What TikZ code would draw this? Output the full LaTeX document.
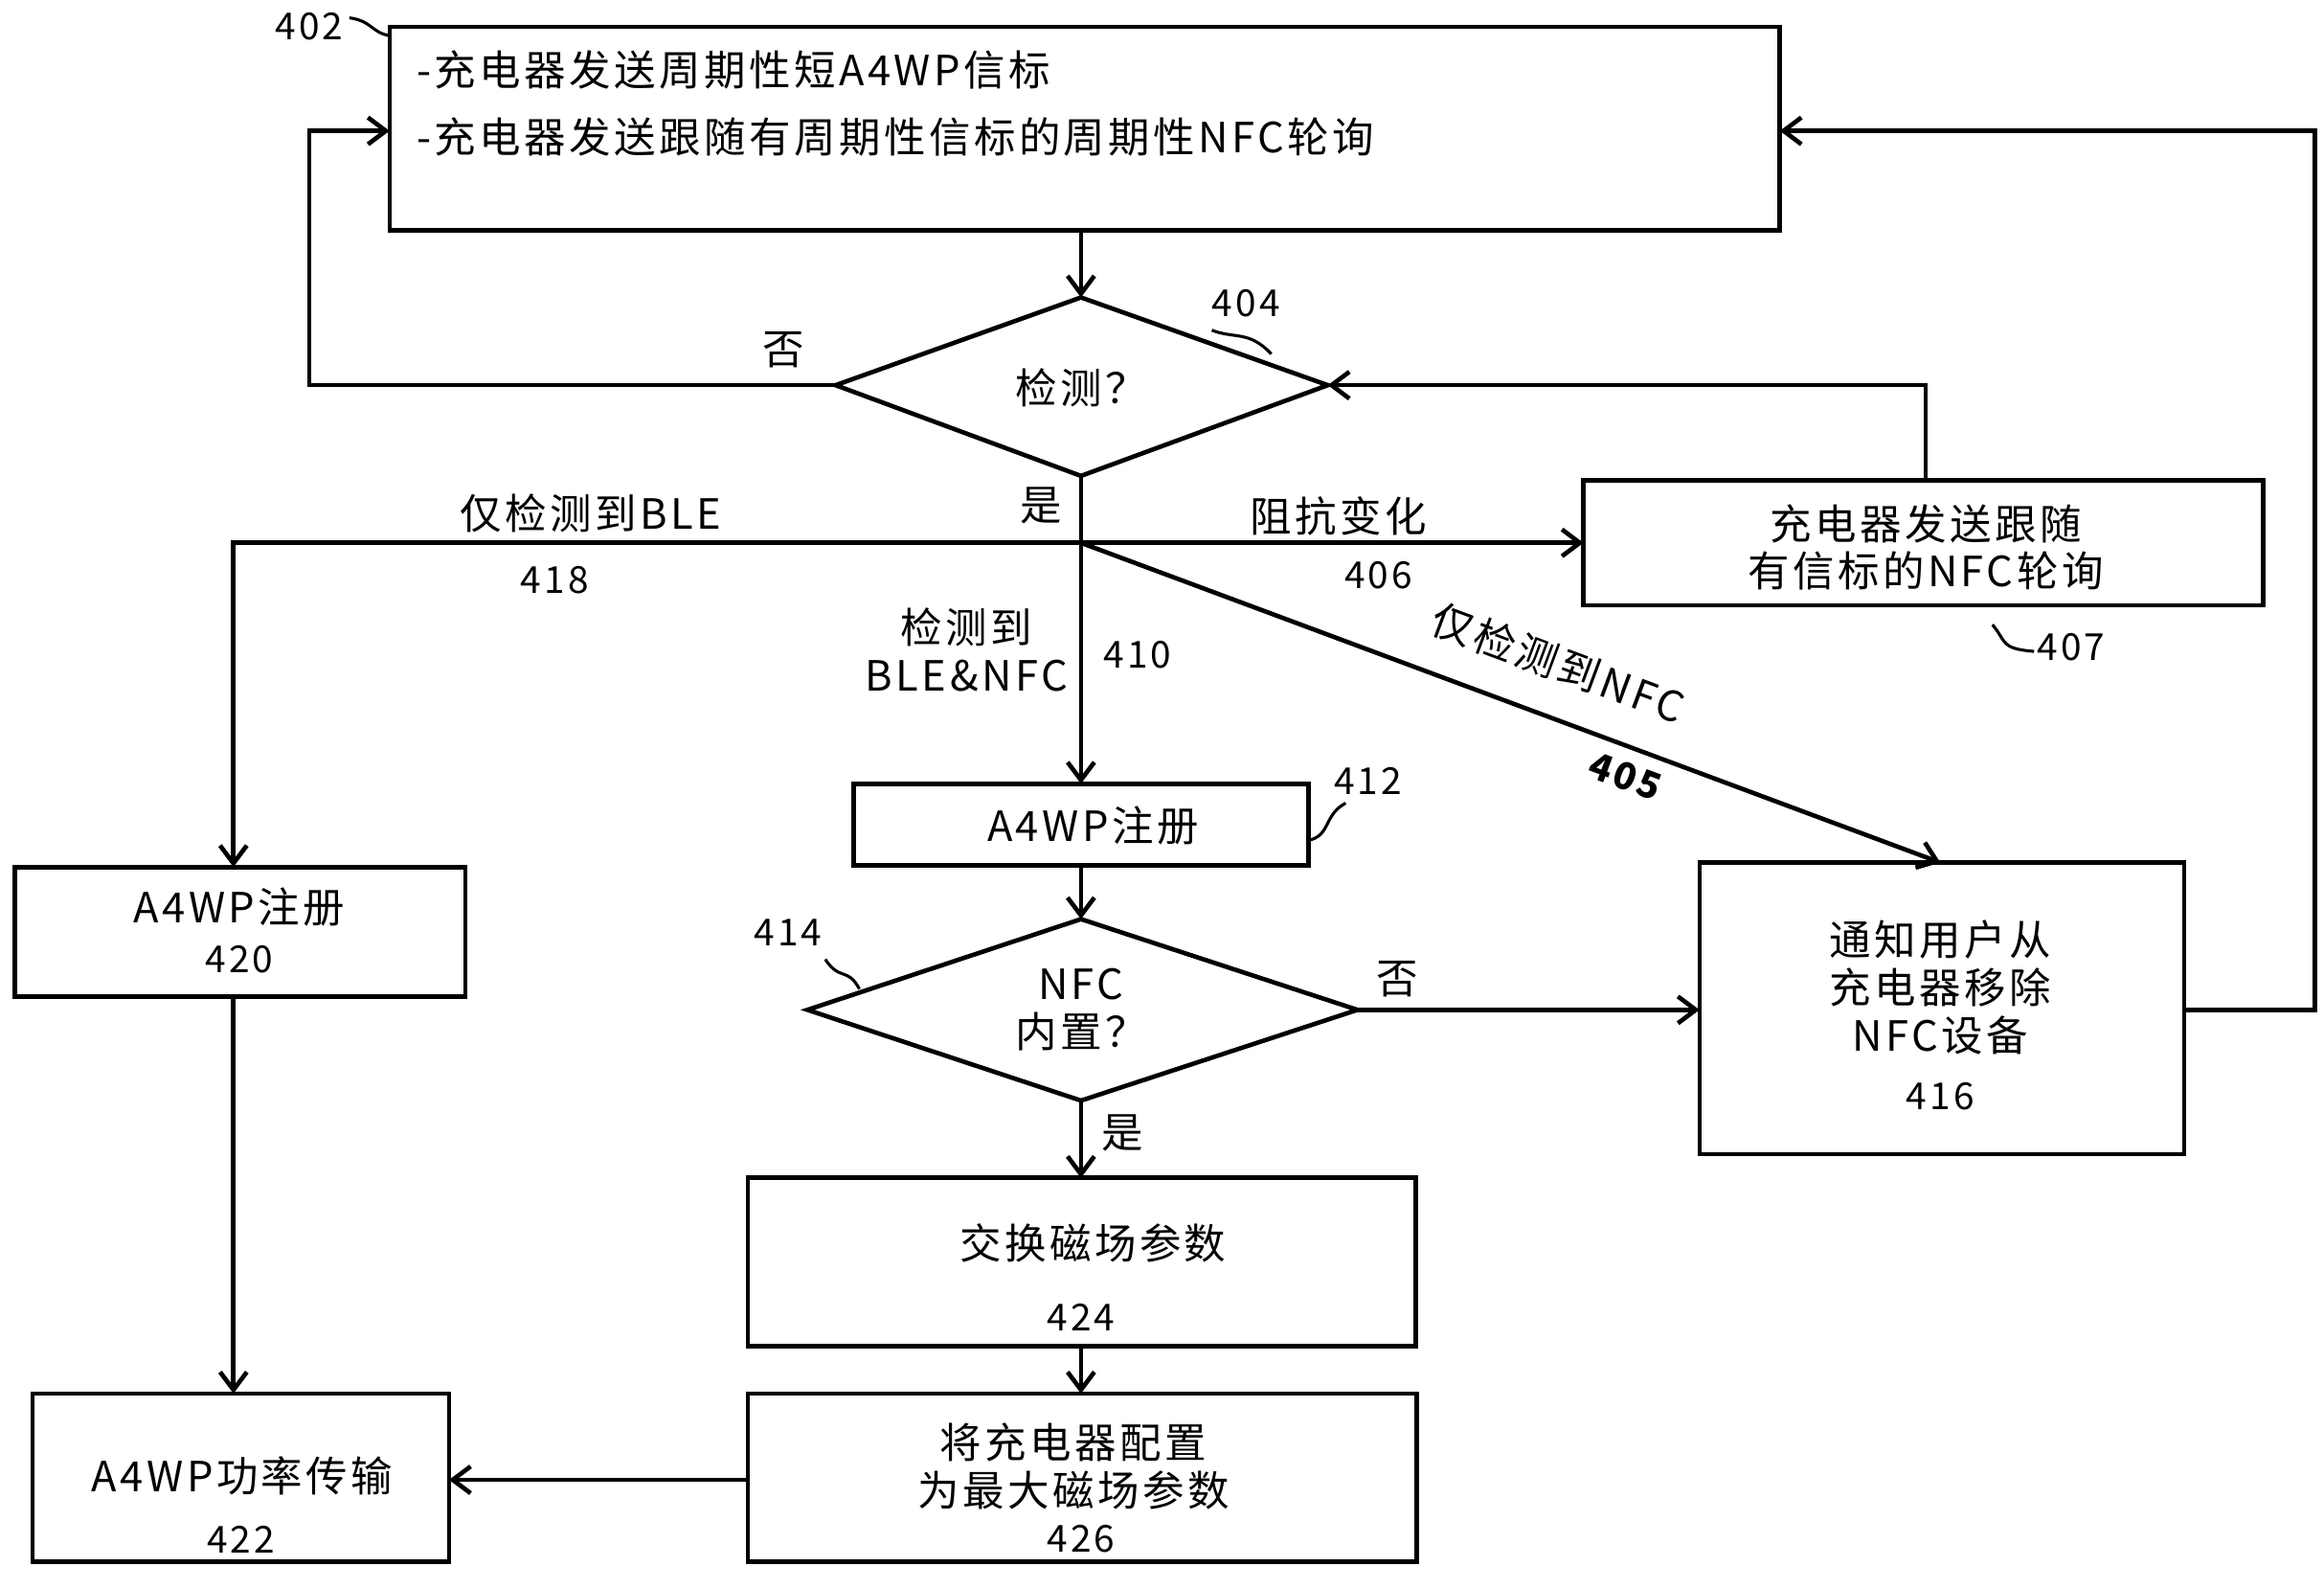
\documentclass[tikz,border=0pt]{standalone}
\usepackage{fontspec}
\setmainfont[LetterSpace=8]{Noto Sans CJK SC}
\usetikzlibrary{arrows.meta}
\begin{document}
\begin{tikzpicture}[x=0.5pt,y=-0.5pt,line width=1.5pt,
  lbl/.style={font=\fontsize{14}{16}\selectfont,align=center},
  num/.style={font=\fontsize{12.5}{14}\selectfont},
  arr/.style={-{Straight Barb[length=6pt,width=9pt]}},
  sq/.style={line width=1pt}]
\useasboundingbox (0,0) rectangle (1563,1068);
% boxes
\draw (262,18) rectangle (1197,155); \coordinate (b402l) at (262,88); \coordinate (b402r) at (1197,88); \coordinate (b402b) at (727,155);
\node[lbl,anchor=west] at (272,47) {-充电器发送周期性短A4WP信标};
\node[lbl,anchor=west] at (272,92) {-充电器发送跟随有周期性信标的周期性NFC轮询};
\node[num] (n402) at (208,18) {402};
\draw[sq] (235,12) .. controls (250,14) and (250,22) .. (262,24);
% diamond 404
\draw (562,259) -- (727,200) -- (893,259) -- (727,320) -- cycle;
\coordinate (d404t) at (727,200); \coordinate (d404l) at (562,259); \coordinate (d404r) at (893,259); \coordinate (d404b) at (727,320);
\node[lbl] (t404) at (727,261) {检测？};
\node[num] (n404) at (838,204) {404};
\draw[sq] (815,222) .. controls (830,228) and (840,222) .. (855,238);
\draw[arr] (b402b) -- (d404t);
\draw[arr] (d404l) -- (208,259) -- (208,88) -- (b402l);
\node[lbl] (no1) at (527,235) {否};
\draw (d404b) -- (727,365) coordinate (j);
\node[lbl] (yes1) at (700,340) {是};
% left branch
\draw (10,583) rectangle (313,670);
\node[lbl] (t420) at (161,610) {A4WP注册};
\node[num] (n420) at (161,645) {420};
\draw[arr] (j) -- (157,365) -- (157,583);
\node[lbl] (l418) at (397,345) {仅检测到BLE};
\node[num] (n418) at (373,390) {418};
% right box 407
\draw (1065,323) rectangle (1522,407);
\node[lbl] (t407) at (1295,368) {充电器发送跟随\\有信标的NFC轮询};
\draw[arr] (j) -- (1065,365);
\node[lbl] (l406) at (900,347) {阻抗变化};
\node[num] (n406) at (927,387) {406};
\node[num] (n407) at (1393,435) {407};
\draw[sq] (1340,420) .. controls (1350,432) and (1345,436) .. (1368,438);
\draw[arr] (1295,323) -- (1295,259) -- (d404r);
% diagonal
\draw[arr] (j) -- (1305,580);
\node[lbl,rotate=-20.4] (l405) at (1048,446) {仅检测到NFC};
\node[num,rotate=-20.4] (n405) at (1093,522) {\bfseries\itshape 405};
% down
\draw (574,527) rectangle (880,582);
\node[lbl] (t412) at (735,555) {A4WP注册};
\draw[arr] (j) -- (727,527);
\node[lbl] (l410) at (650,437) {检测到\\BLE\&NFC};
\node[num] (n410) at (765,440) {410};
\node[num] (n412) at (920,525) {412};
\draw[sq] (880,565) .. controls (895,562) and (890,548) .. (905,540);
% diamond 414
\draw (543,679) -- (727,618) -- (913,679) -- (727,740) -- cycle;
\node[lbl] (t414) at (727,679) {NFC\\内置？};
\node[num] (n414) at (530,627) {414};
\draw[sq] (555,645) .. controls (565,660) and (570,650) .. (578,665);
\draw[arr] (727,582) -- (727,618);
% box 416
\draw (1143,580) rectangle (1469,776);
\node[lbl] (t416) at (1305,664) {通知用户从\\充电器移除\\NFC设备};
\node[num] (n416) at (1305,737) {416};
\draw[arr] (913,679) -- (1143,679);
\node[lbl] (no2) at (940,658) {否};
\draw[arr] (1469,679) -- (1557,679) -- (1557,88) -- (b402r);
% 424
\draw (503,792) rectangle (952,905);
\node[lbl] (t424) at (735,836) {交换磁场参数};
\node[num] (n424) at (727,886) {424};
\draw[arr] (727,740) -- (727,792);
\node[lbl] (yes2) at (755,762) {是};
% 426
\draw (503,937) rectangle (953,1050);
\node[lbl] (t426) at (722,986) {将充电器配置\\为最大磁场参数};
\node[num] (n426) at (727,1035) {426};
\draw[arr] (727,905) -- (727,937);
% 422
\draw (22,937) rectangle (302,1050);
\node[lbl] (t422) at (163,992) {A4WP功率传输};
\node[num] (n422) at (162,1035) {422};
\draw[arr] (503,995) -- (302,995);
\draw[arr] (157,670) -- (157,937);
\end{tikzpicture}
\end{document}
